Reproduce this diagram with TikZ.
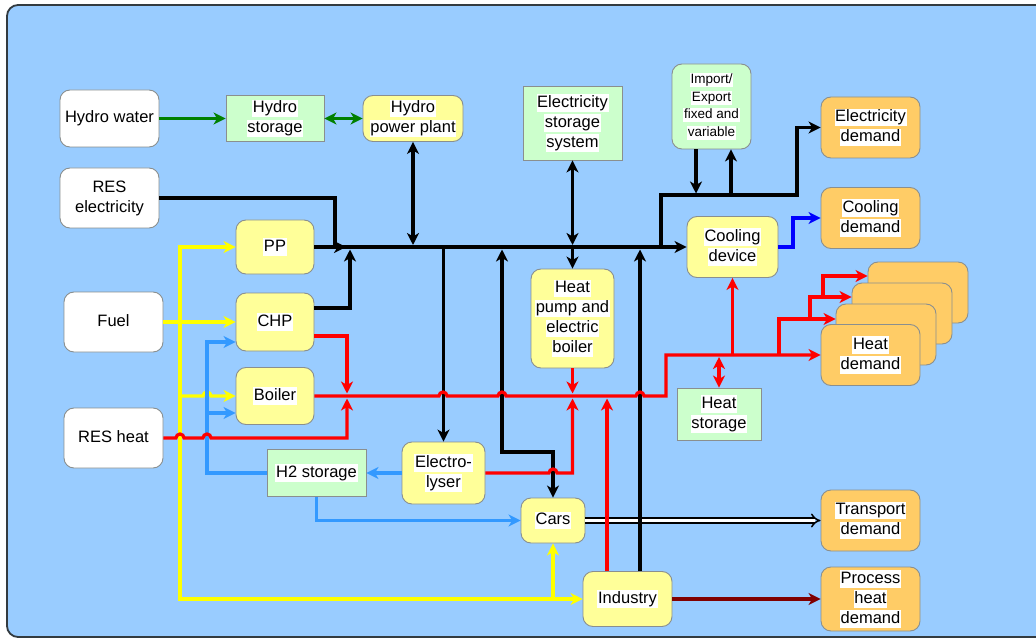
\documentclass[tikz,border=0pt]{standalone}
\usepackage{fontspec}
\setmainfont{Liberation Sans}
\usetikzlibrary{arrows.meta}
\definecolor{bgblue}{HTML}{99CCFF}
\definecolor{yelfill}{HTML}{FFFF99}
\definecolor{grnfill}{HTML}{CCFFCC}
\definecolor{orgfill}{HTML}{FFCC66}
\definecolor{ylw}{HTML}{FFFF00}
\definecolor{hblue}{HTML}{3399FF}
\definecolor{cblue}{HTML}{0000FF}
\definecolor{dgrn}{HTML}{008000}
\definecolor{dred}{HTML}{800000}
\definecolor{bord}{HTML}{8A8F8F}
\definecolor{frame}{HTML}{333B40}
\newcommand\fs{\fontsize{16.5}{20}\selectfont}
\newcommand\fss{\fontsize{13.5}{17.5}\selectfont}
\newcommand\wb[1]{{\setlength\fboxsep{0.7pt}\colorbox{white}{\rule[-0.21em]{0pt}{0.95em}#1}}}
\begin{document}
\begin{tikzpicture}[x=1pt,y=-1pt,
  base/.style={draw=bord, line width=0.9pt, inner sep=0pt, align=center, font=\fs},
  ybox/.style={base, fill=yelfill, rounded corners=10pt},
  gbox/.style={base, fill=grnfill},
  grbox/.style={base, fill=grnfill, rounded corners=10pt},
  obox/.style={base, fill=orgfill, rounded corners=10pt},
  wbox/.style={base, fill=white, rounded corners=10pt},
  sz/.style 2 args={minimum width=#1pt, minimum height=#2pt},
  ln/.style={line width=3.2pt},
  arr/.style={-{Stealth[length=12pt,width=12pt,inset=3.5pt]}},
  darr/.style={{Stealth[length=12pt,width=12pt,inset=3.5pt]}-{Stealth[length=12pt,width=12pt,inset=3.5pt]}},
  dbl/.style={draw=black, line width=1.5pt, double=white, double distance=3.2pt, -{Implies[length=7pt,width=14pt]}}
]
\useasboundingbox (0,0) rectangle (1036,639);
\fill[white] (0,0) rectangle (1036,639);
\draw[fill=bgblue, draw=frame, line width=1.8pt, rounded corners=11pt] (7,5) rectangle (1070,637);

% nodes
\node[wbox, sz={99}{57}] (hw) at (109.5,118.5) {\wb{Hydro water}};
\node[gbox, sz={98}{46}] (hs) at (275,118.5) {\wb{Hydro}\\\wb{storage}};
\node[ybox, sz={100}{46}] (hpp) at (413,118.5) {\wb{Hydro}\\\wb{power plant}};
\node[wbox, sz={99}{60}] (rese) at (109.5,198) {\wb{RES}\\\wb{electricity}};
\node[ybox, sz={78}{54}] (pp) at (275,247) {\wb{PP}};
\node[ybox, sz={78}{58}] (chp) at (275,322) {\wb{CHP}};
\node[ybox, sz={78}{57}] (boiler) at (275,396) {\wb{Boiler}};
\node[wbox, sz={99}{60}] (fuel) at (113.5,322) {\wb{Fuel}};
\node[wbox, sz={99}{60}] (resh) at (113.5,438) {\wb{RES heat}};
\node[gbox, sz={99}{47}] (h2) at (316.5,473) {\wb{H2 storage}};
\node[ybox, sz={83}{62}] (ely) at (443.5,473) {\wb{Electro-}\\\wb{lyser}};
\node[ybox, sz={64}{45}] (cars) at (553,520.5) {\wb{Cars}};
\node[ybox, sz={89}{55}] (ind) at (627.5,599) {\wb{Industry}};
\node[gbox, sz={99}{74}] (ess) at (572.5,123) {\wb{Electricity}\\\wb{storage}\\\wb{system}};
\node[grbox, sz={79}{85}, font=\fss] (ie) at (711.5,106.5) {\wb{Import/}\\\wb{Export}\\\wb{fixed and}\\\wb{variable}};
\node[obox, sz={99}{61}] (ed) at (870.5,127.5) {\wb{Electricity}\\\wb{demand}};
\node[obox, sz={99}{61}] (cd) at (870.5,218) {\wb{Cooling}\\\wb{demand}};
\node[ybox, sz={91}{61}] (cdev) at (732.5,247) {\wb{Cooling}\\\wb{device}};
\node[ybox, sz={83}{99}] (hp) at (572.5,318.5) {\wb{Heat}\\\wb{pump and}\\\wb{electric}\\\wb{boiler}};
\node[gbox, sz={84}{52}] (hst) at (719,414) {\wb{Heat}\\\wb{storage}};
\node[obox, sz={100}{61}] (hd4) at (918,292.5) {};
\node[obox, sz={100}{61}] (hd3) at (902,313.5) {};
\node[obox, sz={100}{61}] (hd2) at (886,334.5) {};
\node[obox, sz={99}{61}] (hd) at (870.5,355) {\wb{Heat}\\\wb{demand}};
\node[obox, sz={99}{61}] (td) at (870.5,520.5) {\wb{Transport}\\\wb{demand}};
\node[obox, sz={99}{64}] (phd) at (870.5,599) {\wb{Process}\\\wb{heat}\\\wb{demand}};

% transport (double line) first
\draw[dbl] (cars.east) -- (td.west);

% green hydro
\draw[ln, dgrn, arr] (hw.east) -- (hs.west);
\draw[ln, dgrn, darr] (hs.east) -- (hpp.west);

% black electricity
\draw[ln, arr] (rese.east) -| (335,247) -- (cdev.west);
\draw[ln, arr] (pp.east) -- (346,247);
\draw[ln, arr] ([yshift=14pt]chp.east) -| (350,249.5);
\draw[ln, darr] (hpp.south) -- (413,245);
\draw[ln, darr] (ess.south) -- (572.5,245);
\draw[ln, arr] (572.5,248) -- (hp.north);
\draw[ln, arr] (443.5,248) -- (ely.north);
\draw[ln, darr] (502,249.5) -- (502,452) -| (cars.north);
\draw[ln, arr] ([xshift=12.5pt]ind.north) -- (640,249.5);
\draw[ln, arr] (661,247) |- (797,195) |- (ed.west);
\draw[ln, arr] ([xshift=-15.5pt]ie.south) -- (696,193.5);
\draw[ln, arr] (731,196.4) -- ([xshift=19.5pt]ie.south);

% cooling
\draw[ln, cblue, arr] (cdev.east) -| (793,218) -- (cd.west);

% yellow fuel
\draw[ln, ylw, arr] (fuel.east) -- (chp.west);
\draw[ln, ylw, darr] (pp.west) -| (180,599) -- (ind.west);
\draw[ln, ylw, arr] (180,396) -- (203,396) arc[start angle=180,end angle=0,radius=4pt] -- (boiler.west);
\draw[ln, ylw, arr] (553,599) -- (cars.south);

% blue hydrogen
\draw[ln, hblue, arr] (ely.west) -- (h2.east);
\draw[ln, hblue, arr] (h2.south) |- (cars.west);
\draw[ln, hblue, arr] (h2.west) -| (207,342) -- ([yshift=-20pt]chp.west);
\draw[ln, hblue, arr] (207,413) -- ([yshift=-17pt]boiler.west);

% red heat
\draw[ln, red, arr] (boiler.east) -- (439,396) arc[start angle=180,end angle=0,radius=4pt]
  -- (498,396) arc[start angle=180,end angle=0,radius=4pt]
  -- (636,396) arc[start angle=180,end angle=0,radius=4pt]
  -- (666,396) -- (666,355) -- (hd.west);
\draw[ln, red, arr] ([yshift=-14pt]chp.east) -| (347,393.5);
\draw[ln, red, arr] (resh.east) -- (176,438) arc[start angle=180,end angle=0,radius=4pt]
  -- (203,438) arc[start angle=180,end angle=0,radius=4pt] -- (347,438) -- (347,398.5);
\draw[ln, red, arr] (hp.south) -- (572.5,393.5);
\draw[ln, red, arr] (ely.east) -- (549,473) arc[start angle=180,end angle=0,radius=4pt]
  -- (572.5,473) -- (572.5,398.5);
\draw[ln, red, arr] ([xshift=-20.5pt]ind.north) -- (607,398.5);
\draw[ln, red, arr] (779,355) |- ([yshift=15.5pt]hd2.west);
\draw[ln, red, arr] (810,319) |- ([yshift=16.5pt]hd3.west);
\draw[ln, red, arr] (823,297) |- ([yshift=16.5pt]hd4.west);
\draw[ln, red, arr] (732.5,355) -- (cdev.south);
\draw[ln, red, darr] (719,357) -- (hst.north);

% process heat
\draw[ln, dred, arr] (ind.east) -- (phd.west);
\end{tikzpicture}
\end{document}
